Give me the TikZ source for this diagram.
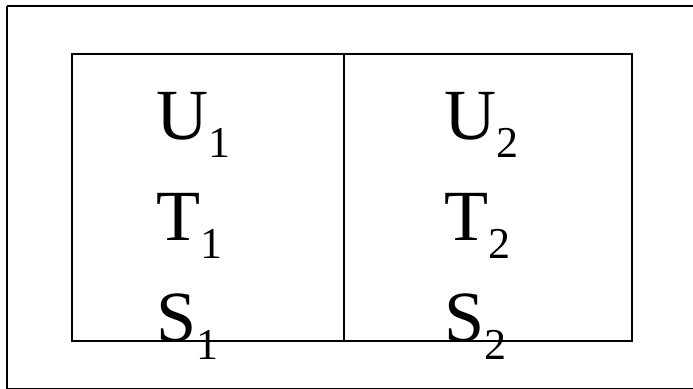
\documentclass[tikz,border=0pt]{standalone}
\usepackage{fontspec}
\setmainfont{Liberation Serif}
\newcommand{\lowidx}[1]{\raisebox{-15.4pt}{\fontsize{37.6}{40}\selectfont #1}}

\begin{document}
\begin{tikzpicture}[x=0.03cm, y=-0.03cm, line join=miter,
  box/.style={line width=1.7pt, black},
  quantity/.style={anchor=base west, inner sep=0pt, font=\fontsize{61.5}{70}\selectfont}]
\useasboundingbox (0,0) rectangle (693,389);

% Outer frame, cut off by the page edge
\draw[box] (7,6) -- (710,6);
\draw[box] (7,6) -- (7,388.6) -- (710,388.6);

% Two-cell table
\coordinate (NW) at (72,54);
\coordinate (SE) at (632,341);
\coordinate (MT) at (344,54);
\coordinate (MB) at (344,341);
\draw[box] (NW) rectangle (SE);
\draw[box] (MT) -- (MB);

% State quantities of each cell
\foreach \idx/\col in {1/156, 2/444} {
  \node[quantity] (u\idx) at (\col,139) {U\lowidx{\idx}};
  \node[quantity] (t\idx) at (\col,240) {T\lowidx{\idx}};
  \node[quantity] (s\idx) at (\col,341) {S\lowidx{\idx}};
}
\end{tikzpicture}
\end{document}
